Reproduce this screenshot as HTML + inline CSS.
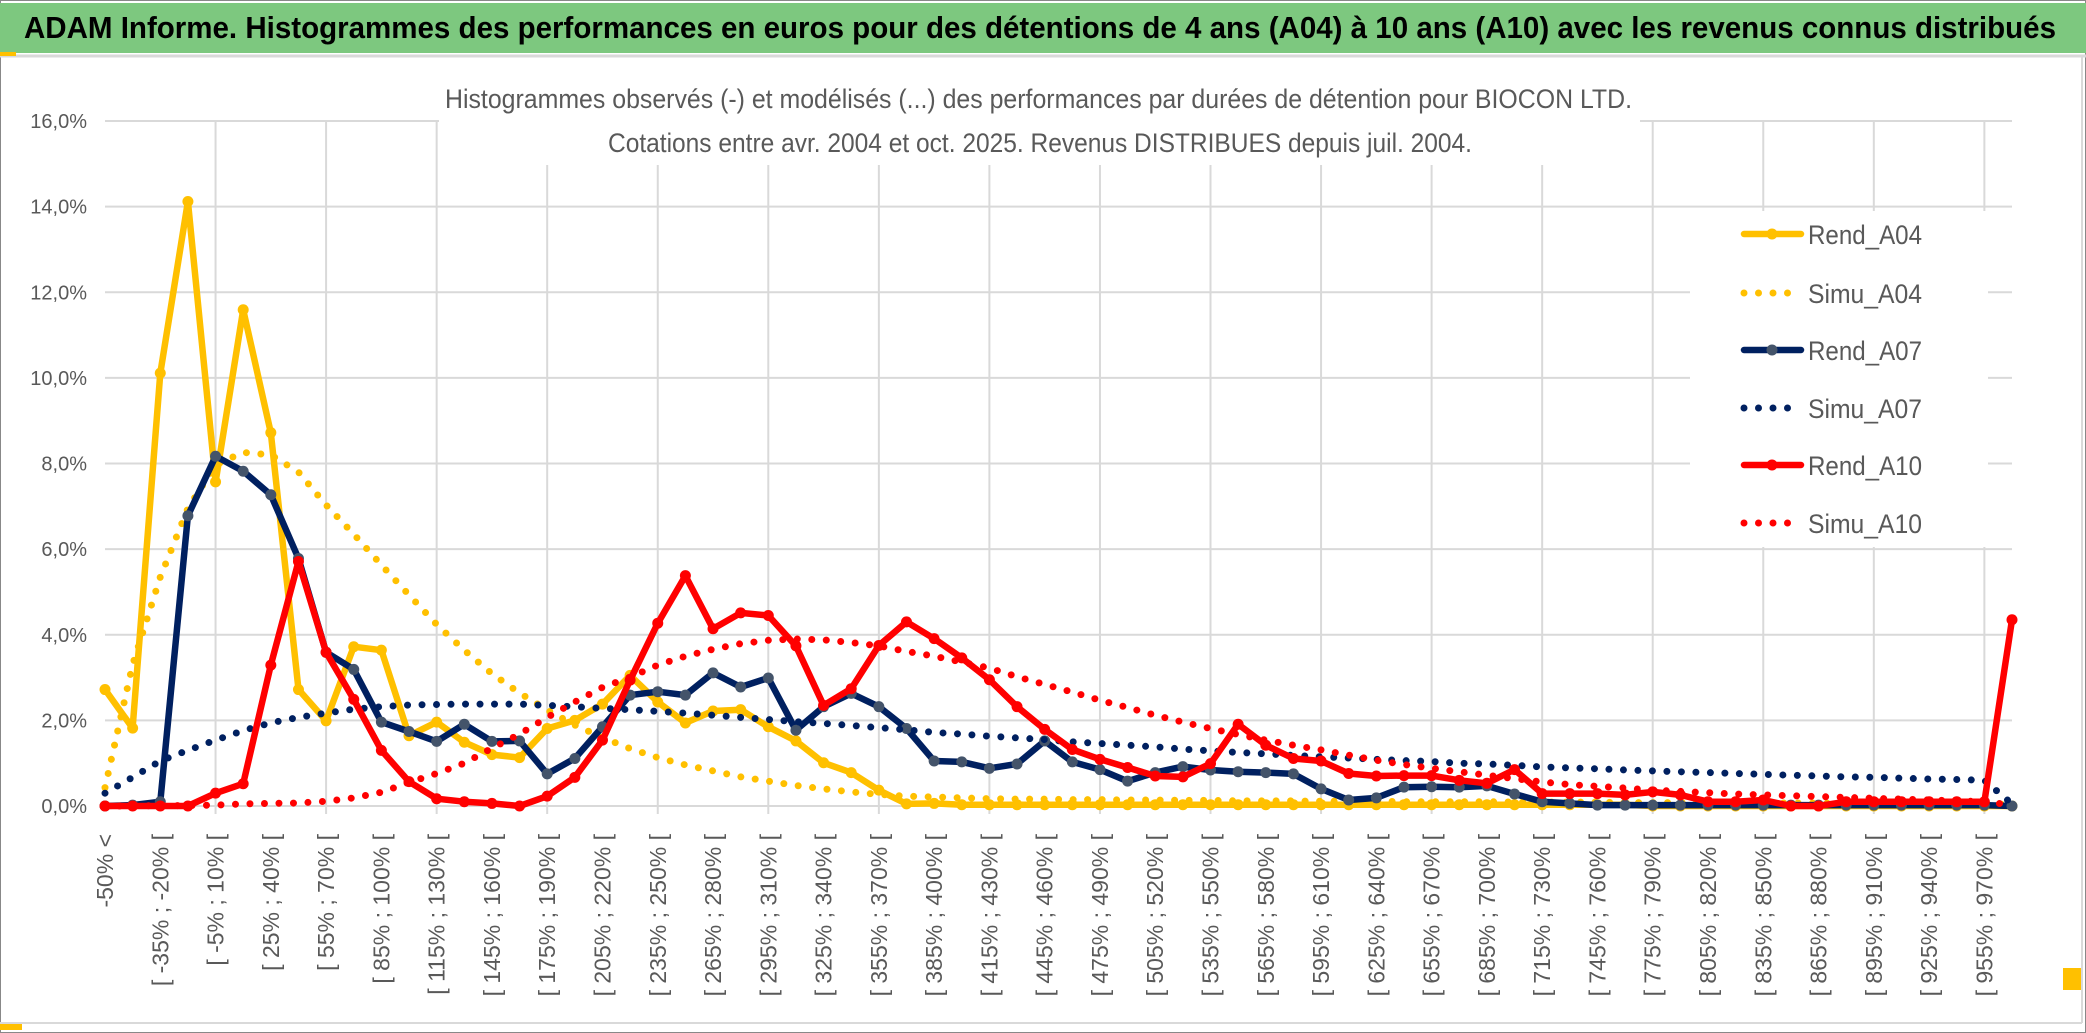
<!DOCTYPE html>
<html><head><meta charset="utf-8"><style>
html,body{margin:0;padding:0;background:#fff;}
svg{display:block;font-family:"Liberation Sans",sans-serif;}
</style></head><body>
<svg id="chart" width="2086" height="1033" viewBox="0 0 2086 1033" xmlns="http://www.w3.org/2000/svg">
<rect x="0" y="0" width="2086" height="1033" fill="#fff"/>
<rect x="0.5" y="0.5" width="2085" height="1032" fill="none" stroke="#888" stroke-width="1"/>
<rect x="0" y="3" width="2086" height="50" fill="#7DC87F"/>
<text x="24" y="38" font-size="31" font-weight="bold" fill="#000" textLength="2032" lengthAdjust="spacingAndGlyphs">ADAM Informe. Histogrammes des performances en euros pour des détentions de 4 ans (A04) à 10 ans (A10) avec les revenus connus distribués</text>
<line x1="0" y1="56" x2="2086" y2="56" stroke="#d9d9d9" stroke-width="3"/>
<rect x="0" y="52" width="16" height="4" fill="#FFC000"/>
<rect x="0" y="1023" width="22" height="7" fill="#FFC000"/>
<rect x="2063" y="968" width="19" height="22" fill="#FFC000"/>
<line x1="2082" y1="56" x2="2082" y2="1023" stroke="#d9d9d9" stroke-width="2"/>
<line x1="0" y1="1023" x2="2082" y2="1023" stroke="#d9d9d9" stroke-width="2"/>
<g id="grid"></g>
<rect x="439" y="70" width="1201" height="95" fill="#fff"/>
<text x="445" y="108" font-size="27" fill="#595959" textLength="1187" lengthAdjust="spacingAndGlyphs">Histogrammes observés (-) et modélisés (...) des performances par durées de détention pour BIOCON LTD.</text>
<text x="608" y="152" font-size="27" fill="#595959" textLength="864" lengthAdjust="spacingAndGlyphs">Cotations entre avr. 2004 et oct. 2025. Revenus DISTRIBUES depuis juil. 2004.</text>
<g id="yaxis"></g>
<g id="xaxis"></g>
<g id="series"></g>
<g id="legend"></g>
</svg>
<script>
const tickLabels = ["-50% <","[ -35% ; -20% [","[ -5% ; 10% [","[ 25% ; 40% [","[ 55% ; 70% [","[ 85% ; 100% [","[ 115% ; 130% [","[ 145% ; 160% [","[ 175% ; 190% [","[ 205% ; 220% [","[ 235% ; 250% [","[ 265% ; 280% [","[ 295% ; 310% [","[ 325% ; 340% [","[ 355% ; 370% [","[ 385% ; 400% [","[ 415% ; 430% [","[ 445% ; 460% [","[ 475% ; 490% [","[ 505% ; 520% [","[ 535% ; 550% [","[ 565% ; 580% [","[ 595% ; 610% [","[ 625% ; 640% [","[ 655% ; 670% [","[ 685% ; 700% [","[ 715% ; 730% [","[ 745% ; 760% [","[ 775% ; 790% [","[ 805% ; 820% [","[ 835% ; 850% [","[ 865% ; 880% [","[ 895% ; 910% [","[ 925% ; 940% [","[ 955% ; 970% ["];
const yTicks = [0,2,4,6,8,10,12,14,16];
const yTickLabels = ["0,0%","2,0%","4,0%","6,0%","8,0%","10,0%","12,0%","14,0%","16,0%"];
const seriesNames = ["Rend_A04","Simu_A04","Rend_A07","Simu_A07","Rend_A10","Simu_A10"];
const rendA04 = [2.72,1.82,10.11,14.12,7.57,11.59,8.72,2.72,1.99,3.72,3.64,1.64,1.96,1.49,1.2,1.13,1.81,2.0,2.38,3.05,2.43,1.94,2.22,2.25,1.85,1.52,1.01,0.78,0.37,0.05,0.06,0.03,0.03,0.03,0.03,0.03,0.03,0.03,0.03,0.03,0.03,0.03,0.03,0.03,0.03,0.03,0.03,0.03,0.03,0.03,0.03,0.03,0.03,0.03,0.03,0.03,0,0,0,0,0,0,0,0,0,0,0,0,0,0];
const simuA04 = [0.43,3.3,5.35,6.95,7.97,8.26,8.2,7.8,7.03,6.35,5.63,4.93,4.24,3.64,3.09,2.64,2.24,1.89,1.6,1.34,1.13,0.96,0.82,0.68,0.58,0.48,0.4,0.33,0.27,0.23,0.21,0.19,0.17,0.16,0.16,0.15,0.15,0.14,0.14,0.13,0.13,0.12,0.12,0.12,0.11,0.11,0.11,0.1,0.1,0.1,0.1,0.09,0.09,0.09,0.09,0.08,0.08,0.08,0.08,0.07,0.07,0.07,0.07,0.06,0.06,0.06,0.06,0.05,0.05,0.04];
const rendA07 = [0,0.02,0.1,6.78,8.17,7.82,7.27,5.78,3.59,3.19,1.96,1.74,1.51,1.91,1.51,1.52,0.75,1.11,1.85,2.59,2.67,2.59,3.11,2.78,2.99,1.77,2.32,2.63,2.32,1.81,1.05,1.03,0.88,0.98,1.52,1.03,0.85,0.58,0.78,0.92,0.84,0.8,0.78,0.75,0.4,0.14,0.19,0.44,0.45,0.44,0.47,0.28,0.1,0.06,0.02,0.02,0.02,0.02,0.02,0.02,0.02,0.02,0.02,0.02,0.02,0.02,0.02,0.02,0.02,0];
const simuA07 = [0.3,0.67,1.05,1.3,1.54,1.76,1.94,2.07,2.17,2.26,2.32,2.36,2.37,2.38,2.38,2.38,2.35,2.32,2.28,2.25,2.21,2.17,2.12,2.07,2.02,1.97,1.93,1.88,1.83,1.78,1.72,1.68,1.63,1.59,1.55,1.5,1.46,1.42,1.38,1.33,1.29,1.25,1.22,1.18,1.15,1.12,1.09,1.06,1.04,1.0,0.98,0.95,0.91,0.89,0.87,0.84,0.82,0.8,0.78,0.76,0.74,0.72,0.7,0.68,0.67,0.65,0.63,0.62,0.6,0.05];
const rendA10 = [0,0,0,0,0.3,0.52,3.29,5.71,3.59,2.49,1.3,0.57,0.17,0.1,0.06,0,0.23,0.67,1.54,2.94,4.27,5.38,4.14,4.51,4.45,3.74,2.35,2.74,3.75,4.3,3.91,3.46,2.95,2.32,1.79,1.32,1.09,0.9,0.7,0.68,0.99,1.91,1.42,1.11,1.05,0.76,0.7,0.71,0.71,0.6,0.53,0.85,0.29,0.29,0.29,0.26,0.33,0.26,0.1,0.1,0.14,0,0,0.1,0.1,0.1,0.1,0.1,0.1,4.35];
const simuA10 = [0,0,0.01,0.01,0.02,0.05,0.06,0.07,0.11,0.19,0.32,0.55,0.76,1.0,1.35,1.68,2.07,2.43,2.77,3.01,3.29,3.5,3.66,3.79,3.87,3.9,3.88,3.82,3.74,3.61,3.5,3.36,3.22,3.02,2.84,2.66,2.47,2.3,2.12,1.96,1.81,1.67,1.54,1.42,1.31,1.19,1.07,0.97,0.88,0.8,0.72,0.64,0.56,0.5,0.46,0.42,0.37,0.34,0.31,0.28,0.26,0.24,0.22,0.2,0.18,0.16,0.14,0.12,0.1,0.02];

const NS = "http://www.w3.org/2000/svg";
const X0 = 105, X1 = 2012, Y0 = 806, YTOP = 121;
const N = rendA04.length;
function xPos(i){ return X0 + i*(X1-X0)/(N-1); }
function yPos(v){ return Y0 - v*(Y0-YTOP)/16; }
function mk(tag, attrs, parent){ const e=document.createElementNS(NS,tag); for(const k in attrs) e.setAttribute(k,attrs[k]); parent.appendChild(e); return e; }

const grid=document.getElementById('grid');
yTicks.forEach(function(t){
  const l=mk('line',{x1:X0,x2:X1,y1:yPos(t),y2:yPos(t),stroke:'#d9d9d9','stroke-width':2},grid);
  
  
});
for(let i=4;i<N;i+=4){
  const l=mk('line',{x1:xPos(i),x2:xPos(i),y1:YTOP,y2:Y0+8,stroke:'#d9d9d9','stroke-width':2},grid);
  
  
}
const ya=document.getElementById('yaxis');
yTicks.forEach(function(t,k){
  const tx=mk('text',{x:87,y:yPos(t)+7,'font-size':20,fill:'#595959','text-anchor':'end'},ya);
  tx.textContent=yTickLabels[k];
  
  
});
const xa=document.getElementById('xaxis');
tickLabels.forEach(function(lab,k){
  const i=k*2; const x=xPos(i)+8; const y=834;
  const tx=mk('text',{x:x,y:y,'font-size':23,fill:'#595959','text-anchor':'end',transform:'rotate(-90 '+x+' '+y+')'},xa);
  tx.textContent=lab;
  
  
});

const sg=document.getElementById('series');
function pts(arr){ return arr.map(function(v,i){return xPos(i).toFixed(1)+','+yPos(v).toFixed(1);}).join(' '); }
function solid(arr,color,mcolor,name){
  const g=mk('g',{},sg);
  
  
  mk('polyline',{points:pts(arr),fill:'none',stroke:color,'stroke-width':6.5,'stroke-linejoin':'round','stroke-linecap':'round'},g);
  arr.forEach(function(v,i){
    const c=mk('circle',{cx:xPos(i),cy:yPos(v),r:5.5,fill:mcolor},g);
    
    
  });
}
function dotted(arr,color,name){
  const p=mk('polyline',{points:pts(arr),fill:'none',stroke:color,'stroke-width':7,'stroke-linecap':'round','stroke-linejoin':'round','stroke-dasharray':'0 14.5'},sg);
  
  
}
solid(rendA04,'#FFC000','#FFC000','line-rend-a04');
dotted(simuA04,'#FFC000','line-simu-a04');
solid(rendA07,'#002060','#44546A','line-rend-a07');
dotted(simuA07,'#002060','line-simu-a07');
solid(rendA10,'#FF0000','#FF0000','line-rend-a10');
dotted(simuA10,'#FF0000','line-simu-a10');

const lg=document.getElementById('legend');
mk('rect',{x:1690,y:211,width:298,height:336,fill:'#fff'},lg);
const legColors=['#FFC000','#FFC000','#002060','#002060','#FF0000','#FF0000'];
const legMarker=['#FFC000',null,'#44546A',null,'#FF0000',null];
const legY=[234,293,350,408,465,523];
seriesNames.forEach(function(nm,k){
  const y=legY[k];
  const g=mk('g',{},lg);
  
  
  if(legMarker[k]){
    mk('line',{x1:1744,x2:1801,y1:y,y2:y,stroke:legColors[k],'stroke-width':6.5,'stroke-linecap':'round'},g);
    mk('circle',{cx:1772,cy:y,r:5.5,fill:legMarker[k]},g);
  } else {
    mk('line',{x1:1744,x2:1802,y1:y,y2:y,stroke:legColors[k],'stroke-width':7,'stroke-linecap':'round','stroke-dasharray':'0 14.5'},g);
  }
  const tx=mk('text',{x:1808,y:y+10,'font-size':27,fill:'#595959',textLength:114,lengthAdjust:'spacingAndGlyphs'},g);
  tx.textContent=nm;
});
</script>
</body></html>
